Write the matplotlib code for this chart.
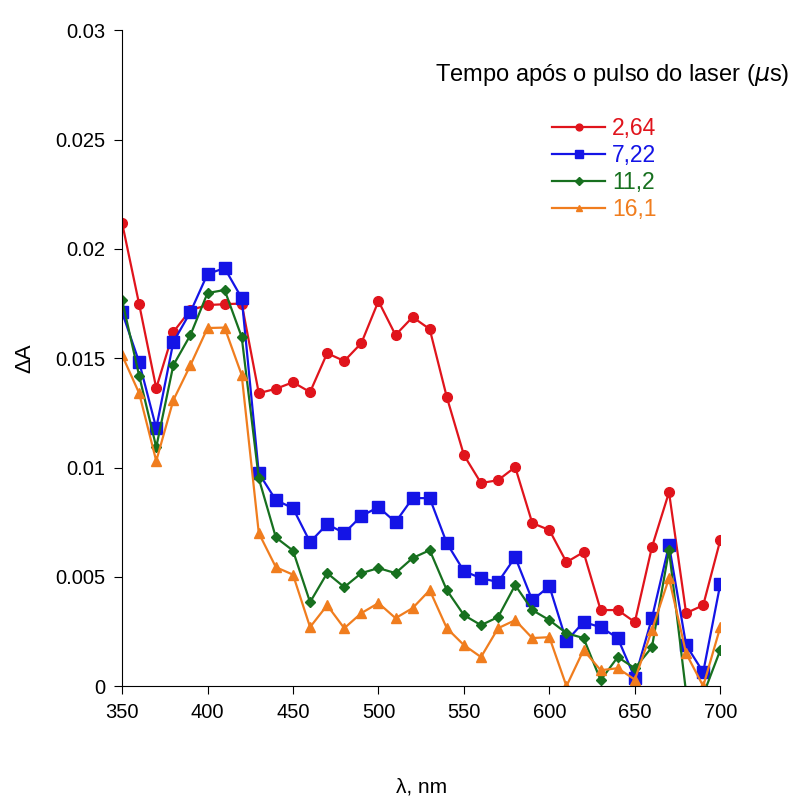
import numpy as np
import matplotlib
matplotlib.use("Agg")
import matplotlib.pyplot as plt
from matplotlib.ticker import FuncFormatter

plt.rcParams['font.family'] = ['Liberation Sans', 'DejaVu Sans']

# wavelength (nm)
wavelength = list(range(350, 701, 10))

# delta A for each delay time after the laser pulse
dA_264 = [0.0212, 0.01747, 0.01363, 0.0162, 0.0172, 0.01743, 0.01747, 0.0175,
          0.0134, 0.0136, 0.0139, 0.01345, 0.01523, 0.01487, 0.01569, 0.01761,
          0.01606, 0.01688, 0.01633, 0.01322, 0.01057, 0.00929, 0.00942, 0.01002,
          0.00746, 0.00714, 0.00567, 0.00613, 0.00348, 0.00348, 0.00293, 0.00636,
          0.00887, 0.00334, 0.0037, 0.00668]
dA_722 = [0.01711, 0.01482, 0.0118, 0.01574, 0.01711, 0.01885, 0.01912, 0.01775,
          0.00974, 0.00851, 0.00814, 0.00659, 0.00741, 0.0070, 0.00778, 0.00819,
          0.0075, 0.0086, 0.0086, 0.00654, 0.00526, 0.00494, 0.00476, 0.0059,
          0.00393, 0.00457, 0.00206, 0.00293, 0.0027, 0.0022, 0.00037, 0.00311,
          0.00645, 0.00188, 0.00064, 0.00467]
dA_112 = [0.01766, 0.0142, 0.01093, 0.01468, 0.01606, 0.01798, 0.01812, 0.01597,
          0.0095, 0.0068, 0.0062, 0.00384, 0.00517, 0.00453, 0.00517, 0.0054,
          0.00517, 0.00586, 0.00622, 0.00439, 0.00325, 0.00279, 0.00316, 0.00462,
          0.00348, 0.00302, 0.00242, 0.0022, 0.00027, 0.00133, 0.00082, 0.00178,
          0.00622, -0.0003, -0.0004, 0.00165]
dA_161 = [0.01514, 0.0134, 0.0103, 0.01308, 0.01468, 0.01638, 0.0164, 0.01423,
          0.0070, 0.00544, 0.0051, 0.0027, 0.0037, 0.00265, 0.00334, 0.0038,
          0.00311, 0.00357, 0.00439, 0.00265, 0.00188, 0.00133, 0.00265, 0.00302,
          0.0022, 0.00224, 0.0, 0.00165, 0.00073, 0.00082, 0.0003, 0.00256,
          0.00494, 0.0015, 0.0, 0.0027]

labels = ["2,64", "7,22", "11,2", "16,1"]
series = [dA_264, dA_722, dA_112, dA_161]
colors = ["#e0141c", "#1414e6", "#17701f", "#f07d1e"]
markers = ["o", "s", "D", "^"]
msizes = [7, 8, 5.5, 7]

fig = plt.figure(figsize=(8.03, 7.96), dpi=100)
ax = fig.add_axes([0.152, 0.138, 0.745, 0.824])

ax.spines["top"].set_visible(False)
ax.spines["right"].set_visible(False)

for y, lab, c, m, ms in zip(series, labels, colors, markers, msizes):
    ax.plot(wavelength, y, color=c, marker=m, markersize=ms, lw=1.6,
            label=lab, clip_on=True)

ax.set_xlim(350, 700)
ax.set_ylim(0, 0.03)
ax.set_xticks(range(350, 701, 50))
ax.set_yticks(np.arange(0, 0.0301, 0.005))
ax.yaxis.set_major_formatter(FuncFormatter(lambda v, p: "%g" % round(v, 4)))
ax.tick_params(axis="both", labelsize=14.5, direction="out", length=6, pad=6)

ax.set_xlabel("λ, nm", fontsize=15, labelpad=40)
ax.set_ylabel("ΔA", fontsize=16, labelpad=14)

# legend title placed separately, centred above the entries
fig.text(0.762, 0.906, "Tempo após o pulso do laser ($\\mu$s)",
         ha="center", va="center", fontsize=17)

leg = ax.legend(loc="upper left", bbox_to_anchor=(0.688, 0.853),
                bbox_transform=fig.transFigure, borderaxespad=0, borderpad=0,
                frameon=False, fontsize=16.5, handlelength=2.3,
                markerscale=0.7, labelspacing=0.18, handletextpad=0.3,
                labelcolor="linecolor")

plt.savefig("out.png", dpi=100)
